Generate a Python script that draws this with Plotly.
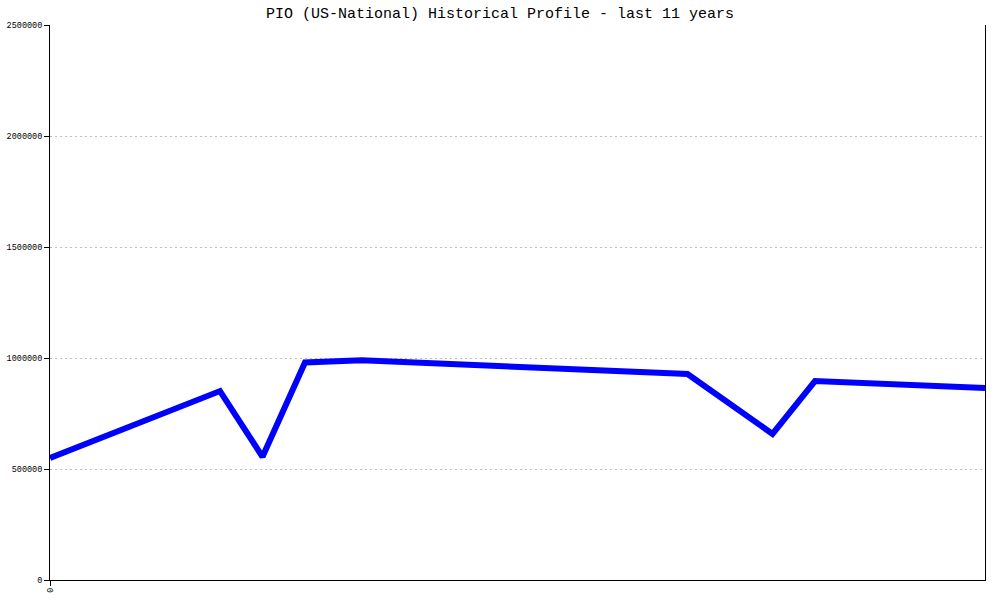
import plotly.graph_objects as go

# months since start of the 11-year window
months = [0, 24, 30, 36, 44, 90, 102, 108, 132]
values = [550000, 851000, 555000, 980000, 990000, 928000, 658000, 896000, 865000]

y_ticks = [0, 500000, 1000000, 1500000, 2000000, 2500000]
y_tick_text = ["0", "500000", "1000000", "1500000", "2000000", "2500000"]
x_ticks = [0]
x_tick_text = ["0"]

title = "PIO (US-National) Historical Profile - last 11 years"

fig = go.Figure()
fig.add_trace(go.Scatter(
    x=months, y=values, mode="lines",
    line=dict(color="#0000FF", width=6),
    hoverinfo="x+y", showlegend=False,
))

mono = "Liberation Mono, DejaVu Sans Mono, monospace"

fig.update_layout(
    width=1000, height=600,
    paper_bgcolor="white", plot_bgcolor="white",
    margin=dict(l=50, r=15, t=25, b=20, pad=0, autoexpand=False),
    title=dict(text=title, x=0.5, xanchor="center", y=1 - 13/600, yanchor="middle",
               font=dict(family=mono, size=15, color="black")),
    font=dict(family=mono, color="black"),
)

fig.update_xaxes(
    range=[0, 132], showgrid=False, zeroline=False, automargin=False,
    showline=True, linecolor="black", linewidth=1, mirror=False,
    tickmode="array", tickvals=x_ticks, ticktext=x_tick_text,
    ticks="outside", ticklen=5, tickcolor="black", tickwidth=1,
    tickangle=90, tickfont=dict(family=mono, size=8.5, color="black"),
)
fig.update_yaxes(
    range=[0, 2500000], zeroline=False, automargin=False,
    showgrid=True, gridcolor="#c0c0c0", gridwidth=1, griddash="2px,3px",
    showline=True, linecolor="black", linewidth=1, mirror=True,
    tickmode="array", tickvals=y_ticks, ticktext=y_tick_text,
    ticks="outside", ticklen=5, tickcolor="black", tickwidth=1,
    tickfont=dict(family=mono, size=8.5, color="black"),
)

fig.write_html("out.html", config={"displayModeBar": False},
               post_script="document.body.style.margin='0';")
